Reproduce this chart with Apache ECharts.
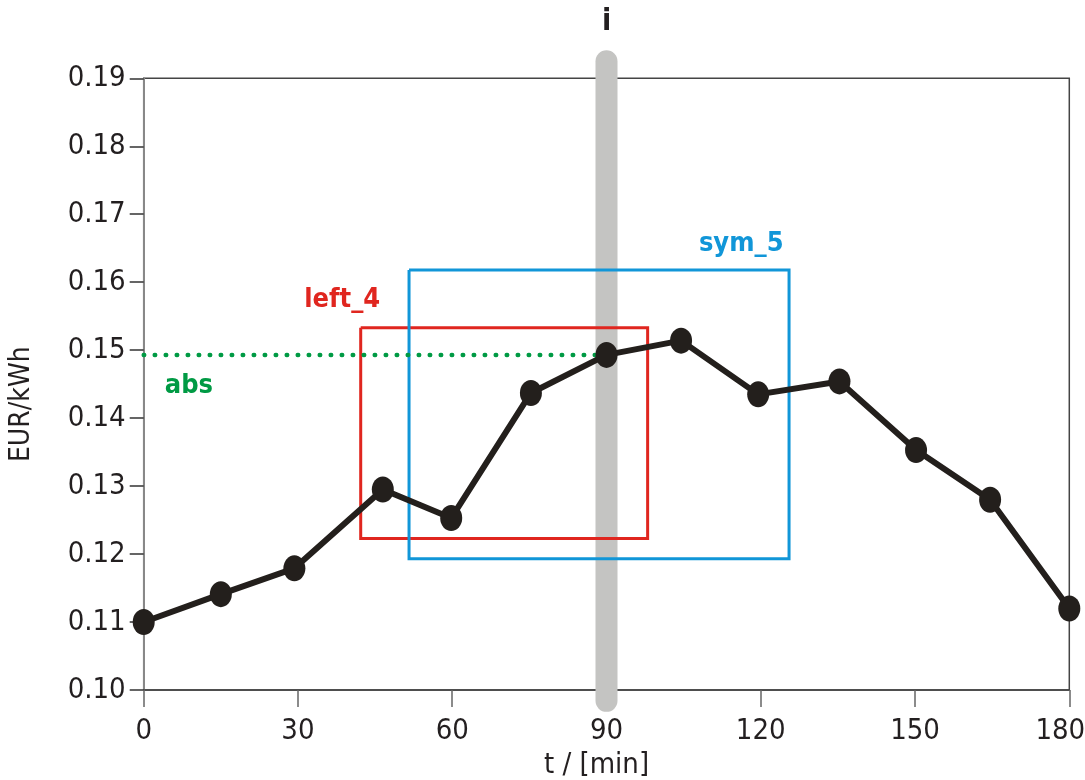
<!DOCTYPE html>
<html>
<head>
<meta charset="utf-8">
<script src="https://cdn.jsdelivr.net/npm/echarts@6/dist/echarts.min.js"></script>
<style>html,body{margin:0;padding:0;background:#fff}#c{width:1085px;height:780px}</style>
</head>
<body>
<div id="c"></div>
<script>
// ---- data ----
var times  = [0, 15, 29.3, 46.5, 59.8, 75.3, 90, 104.5, 119.5, 135.3, 150.2, 164.6, 180];
var prices = [0.1100, 0.1141, 0.1179, 0.1295, 0.1253, 0.1437, 0.1493, 0.1514, 0.1435, 0.1454, 0.1353, 0.1280, 0.1120];
var xTicks = [0, 30, 60, 90, 120, 150, 180];
var yTicks = [0.10, 0.11, 0.12, 0.13, 0.14, 0.15, 0.16, 0.17, 0.18, 0.19];
var currentT = 90;             // "i" marker
var cursorRange = [0.0984, 0.1925];
var absValue = 0.1493;          // "abs" level
var leftBoxT = [42.2, 98.0];   var leftBoxV = [0.1223, 0.1533];
var symBoxT  = [51.6, 125.5];  var symBoxV  = [0.1193, 0.1618];
var labelNames = ['i', 'abs', 'left_4', 'sym_5'];
var labelT = [90, 8.8, 38.6, 116.2];
var labelV = [0.1982, 0.1447, 0.1574, 0.1656];

var FONT = '"Liberation Sans Narrow", "DejaVu Sans Condensed", "Liberation Sans", sans-serif';
function pairs(a, b) { return a.map(function (v, i) { return [v, b[i]]; }); }
function box(t, v) { return [[t[0], v[1]], [t[1], v[1]], [t[1], v[0]], [t[0], v[0]], [t[0], v[1]]]; }

var chart = echarts.init(document.getElementById('c'), null, {renderer: 'canvas'});
var labelColors = ['#231f20', '#009a44', '#e0261f', '#1196d8'];

chart.setOption({
  animation: false,
  grid: {left: 143.7, right: 15.7, top: 78.3, bottom: 90, containLabel: false, outerBoundsMode: 'none',
    show: true, borderColor: '#444', borderWidth: 1.5},
  xAxis: {
    type: 'value', min: xTicks[0], max: xTicks[xTicks.length - 1], interval: 30,
    name: 't / [min]', nameLocation: 'middle', nameGap: 61,
    nameTextStyle: {fontFamily: FONT, fontSize: 29, color: '#231f20', padding: [0, 20, 0, 0]},
    axisLine: {lineStyle: {color: '#444', width: 1.5}},
    axisTick: {show: true, inside: false, length: 17, lineStyle: {color: '#666', width: 1.5}},
    axisLabel: {fontFamily: FONT, fontSize: 29, color: '#231f20', margin: 27,
      formatter: function (v) { return v === xTicks[xTicks.length - 1] ? '{r|' + v + '}' : String(v); },
      rich: {r: {fontFamily: FONT, fontSize: 29, color: '#231f20', padding: [0, 18, 0, 0]}}},
    splitLine: {show: false}
  },
  yAxis: {
    type: 'value', min: yTicks[0], max: yTicks[yTicks.length - 1], interval: 0.01,
    name: 'EUR/kWh', nameLocation: 'middle', nameRotate: 90, nameGap: 108,
    nameTextStyle: {fontFamily: FONT, fontSize: 28, color: '#231f20', padding: [0, 40, 0, 0]},
    axisLine: {lineStyle: {color: '#888', width: 2}},
    axisTick: {show: true, inside: false, length: 14, lineStyle: {color: '#333', width: 1.5}},
    axisLabel: {fontFamily: FONT, fontSize: 29, color: '#231f20', margin: 18,
      formatter: function (v) { return v.toFixed(2); }},
    splitLine: {show: false}
  },
  series: [
    { // gray cursor bar
      type: 'line', clip: false, silent: true, symbol: 'none', z: 0, zlevel: 0,
      data: [[currentT, cursorRange[1]], [currentT, cursorRange[0]]],
      lineStyle: {color: '#c4c4c2', width: 22, cap: 'round'}
    },
    {
      type: 'line', symbol: 'none', z: 10, zlevel: 1, clip: false,
      data: box(leftBoxT, leftBoxV),
      lineStyle: {color: '#e0261f', width: 3, join: 'miter'}
    },
    {
      type: 'line', symbol: 'none', z: 10, zlevel: 1, clip: false,
      data: box(symBoxT, symBoxV),
      lineStyle: {color: '#1196d8', width: 3, join: 'miter'}
    },
    { // abs dotted line
      type: 'line', symbol: 'none', z: 11, zlevel: 1,
      data: [[xTicks[0], absValue], [currentT, absValue]],
      lineStyle: {color: '#009a44', width: 4.5, type: [0.5, 10.5], cap: 'round'}
    },
    { // price line
      type: 'line', z: 12, zlevel: 1, symbol: 'circle', symbolSize: [22, 26], showSymbol: true, clip: false,
      data: pairs(times, prices),
      lineStyle: {color: '#231f1c', width: 6},
      itemStyle: {color: '#231f1c'}
    },
    { // text annotations
      type: 'scatter', z: 13, zlevel: 1, clip: false, symbolSize: 0, silent: true,
      itemStyle: {color: 'rgba(0,0,0,0)', opacity: 1},
      data: labelNames.map(function (n, i) {
        return {
          value: [labelT[i], labelV[i]],
          label: {show: true, position: 'inside', formatter: n, opacity: 1,
            fontFamily: FONT, fontSize: i === 0 ? 30 : 27, fontWeight: 'bold',
            color: labelColors[i]}
        };
      })
    }
  ]
});
</script>
</body>
</html>
